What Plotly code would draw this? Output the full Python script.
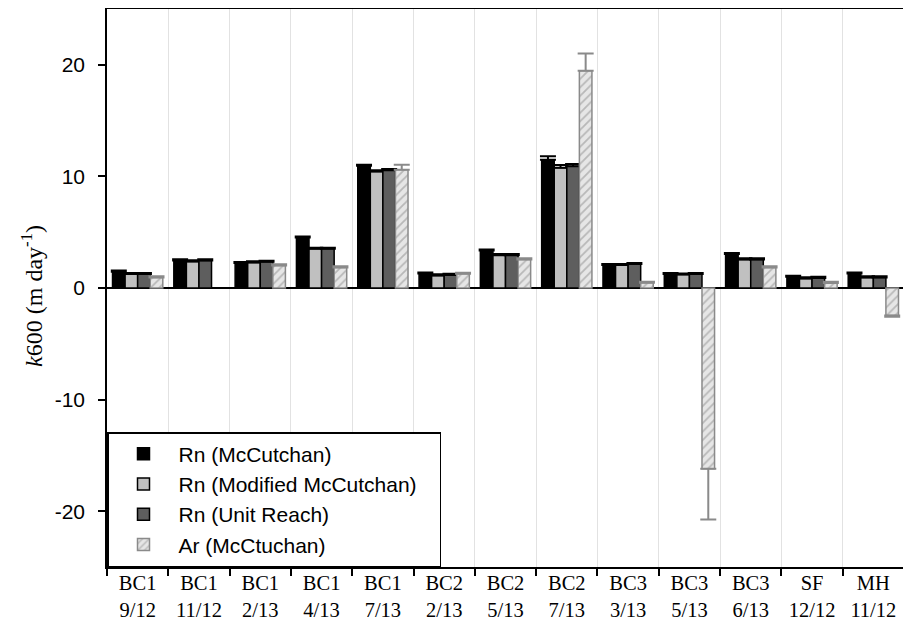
import plotly.graph_objects as go

categories = ["BC1<br>9/12", "BC1<br>11/12", "BC1<br>2/13", "BC1<br>4/13", "BC1<br>7/13",
              "BC2<br>2/13", "BC2<br>5/13", "BC2<br>7/13", "BC3<br>3/13", "BC3<br>5/13",
              "BC3<br>6/13", "SF<br>12/12", "MH<br>11/12"]

rn_mccutchan = [1.46, 2.47, 2.23, 4.52, 10.95, 1.3, 3.36, 11.5, 2.05, 1.25, 3.04, 1.0, 1.3]
rn_modified = [1.25, 2.38, 2.29, 3.51, 10.44, 1.13, 2.94, 10.77, 2.05, 1.2, 2.56, 0.86, 0.95]
rn_unit_reach = [1.25, 2.47, 2.35, 3.51, 10.56, 1.17, 2.94, 10.9, 2.14, 1.25, 2.56, 0.9, 0.95]
ar_mccutchan = [0.95, None, 2.02, 1.84, 10.6, 1.27, 2.56, 19.46, 0.47, -16.2, 1.84, 0.45, -2.47]

err_rn_mccutchan = [0.1, 0.1, 0.1, 0.1, 0.1, 0.1, 0.1, 0.3, 0.1, 0.1, 0.1, 0.1, 0.1]
err_rn_modified = [0.1, 0.1, 0.1, 0.1, 0.1, 0.1, 0.1, 0.25, 0.1, 0.1, 0.1, 0.1, 0.1]
err_rn_unit_reach = [0.1, 0.1, 0.1, 0.1, 0.1, 0.1, 0.1, 0.2, 0.1, 0.1, 0.1, 0.1, 0.1]
err_ar_up = [0.1, 0, 0.1, 0.1, 0.45, 0.1, 0.1, 1.55, 0.1, 0, 0.1, 0.1, 0]
err_ar_down = [0, 0, 0, 0, 0, 0, 0, 0, 0, 4.55, 0, 0, 0.1]

y_tick_values = [-20, -10, 0, 10, 20]
y_tick_labels = ["-20", "-10", "0", "10", "20"]

SANS = "Liberation Sans, Arial, sans-serif"
SERIF = "Liberation Serif, Times New Roman, serif"

fig = go.Figure()

def rn_bar(name, vals, errs, fill):
    return go.Bar(
        name=name, x=categories, y=vals,
        marker=dict(color=fill, line=dict(color="black", width=1.5)),
        error_y=dict(type="data", symmetric=False, array=errs,
                     arrayminus=[0] * len(errs), color="black", thickness=2, width=8),
    )

fig.add_trace(rn_bar("Rn (McCutchan)", rn_mccutchan, err_rn_mccutchan, "#000000"))
fig.add_trace(rn_bar("Rn (Modified McCutchan)\u00a0\u00a0\u00a0", rn_modified, err_rn_modified, "#c0c0c0"))
fig.add_trace(rn_bar("Rn (Unit Reach)", rn_unit_reach, err_rn_unit_reach, "#5e5e5e"))
fig.add_trace(go.Bar(
    name="Ar (McCtuchan)", x=categories, y=ar_mccutchan,
    marker=dict(color="#e6e6e6",
                pattern=dict(shape="/", fgcolor="#8a8a8a", bgcolor="#e6e6e6", size=6, solidity=0.3),
                line=dict(color="#8a8a8a", width=1.5)),
    error_y=dict(type="data", symmetric=False, array=err_ar_up, arrayminus=err_ar_down,
                 color="#8a8a8a", thickness=2, width=8),
))

# The page body adds an 8px margin, so the figure is sized to fit the 911x621 window.
fig.update_layout(
    width=903, height=613,
    margin=dict(l=99, r=7, t=1, b=54),
    paper_bgcolor="white", plot_bgcolor="white",
    barmode="group", bargap=0.18, bargroupgap=0,
    showlegend=True,
    legend=dict(x=0, y=0, xanchor="left", yanchor="bottom",
                bordercolor="black", borderwidth=1.5, bgcolor="white",
                font=dict(family=SANS, size=21, color="black"),
                itemwidth=60, tracegroupgap=0),
    xaxis=dict(
        tickson="boundaries", ticks="outside", ticklen=7, tickcolor="black", tickwidth=1.5,
        showline=True, linecolor="black", linewidth=1.5, mirror=True,
        showgrid=True, gridcolor="#e2e2e2", gridwidth=1,
        tickfont=dict(family=SERIF, size=20.5, color="black"),
        ticklabelstandoff=-3, automargin=False,
    ),
    yaxis=dict(
        range=[-25, 25], tickvals=y_tick_values, ticktext=y_tick_labels,
        ticks="outside", ticklen=7, tickcolor="black", tickwidth=1.5,
        showline=True, linecolor="black", linewidth=1.5, mirror=True,
        showgrid=False, zeroline=True, zerolinecolor="black", zerolinewidth=1.5,
        tickfont=dict(family=SANS, size=21, color="black"),
        ticklabelstandoff=9, automargin=False,
    ),
    annotations=[dict(
        text="<i>k</i>600 (m day<sup>-1</sup>)", xref="paper", yref="paper",
        x=-0.094, y=0.486, xanchor="center", yanchor="middle", textangle=-90,
        showarrow=False, font=dict(family=SERIF, size=24, color="black"),
    )],
)

fig.write_html("out.html")
